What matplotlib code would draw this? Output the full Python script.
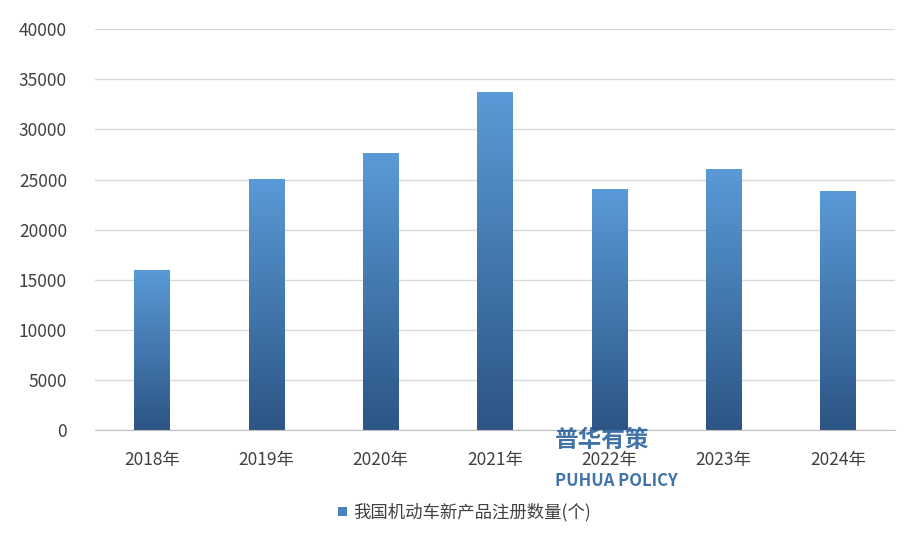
import matplotlib
matplotlib.use("Agg")
import matplotlib.pyplot as plt
import numpy as np
from matplotlib.patches import Patch

plt.rcParams['font.family'] = ['Noto Sans CJK SC', 'DejaVu Sans']

years = ["2018年", "2019年", "2020年", "2021年", "2022年", "2023年", "2024年"]
counts = [16000, 25100, 27600, 33700, 24100, 26000, 23900]
series_name = "我国机动车新产品注册数量(个)"

fig = plt.figure(figsize=(9.2, 5.51), dpi=100)
ax = fig.add_axes([0.103, 0.2196, 0.870, 0.7274])

x = np.arange(len(years))
bars = ax.bar(x, counts, width=0.31, color="none", zorder=2)
grad = np.linspace(0, 1, 256).reshape(-1, 1)
cmap = matplotlib.colors.LinearSegmentedColormap.from_list("g", ["#2c5584", "#5a9ad8"])
for b in bars:
    bx, by = b.get_x(), b.get_y()
    w, h = b.get_width(), b.get_height()
    im = ax.imshow(grad, cmap=cmap, extent=[bx, bx + w, by, by + h],
                   origin="lower", aspect="auto", zorder=2)
    im.set_clip_path(b)

ax.set_xlim(-0.5, len(years) - 0.5)
ax.set_ylim(0, 40000)
ax.set_yticks(range(0, 40001, 5000))
ax.set_xticks(x)
ax.set_xticklabels(years)
ax.tick_params(length=0, labelsize=12.5, colors="#404040")
ax.tick_params(axis="y", pad=20)
ax.tick_params(axis="x", pad=15)
ax.grid(axis="y", color="#d9d9d9", linewidth=1, zorder=0)
for s in ["top", "right", "left"]:
    ax.spines[s].set_visible(False)
ax.spines["bottom"].set_color("#bfbfbf")

# watermark
fig.text(0.603, 0.201, "普华有策", fontsize=17, color="#1f5a9a", fontweight="bold",
         ha="left", va="center", alpha=0.85)
fig.text(0.603, 0.127, "PUHUA POLICY", fontsize=12, color="#1f5a9a", fontweight="bold",
         ha="left", va="center", alpha=0.85)

fig.legend(handles=[Patch(facecolor="#4a82c0")], labels=[series_name],
           loc="center", bbox_to_anchor=(0.505, 0.07), frameon=False,
           fontsize=12.5, handlelength=0.5, handleheight=0.5, handletextpad=0.4,
           labelcolor="#404040")

fig.savefig("out.png", dpi=100)
